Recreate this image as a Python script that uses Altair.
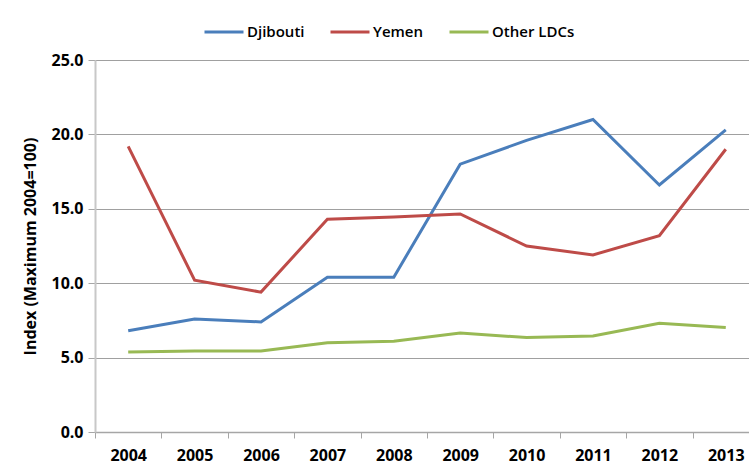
import altair as alt
import pandas as pd

years = [2004, 2005, 2006, 2007, 2008, 2009, 2010, 2011, 2012, 2013]
djibouti = [6.8, 7.6, 7.4, 10.4, 10.4, 18.0, 19.6, 21.0, 16.6, 20.3]
yemen = [19.2, 10.2, 9.4, 14.3, 14.45, 14.65, 12.5, 11.9, 13.2, 19.0]
other_ldcs = [5.38, 5.45, 5.45, 6.0, 6.1, 6.65, 6.35, 6.45, 7.3, 7.03]
series = ["Djibouti", "Yemen", "Other LDCs"]
colors = ["#4A7EBB", "#BE4B48", "#98B954"]

rows = []
for name, vals in zip(series, [djibouti, yemen, other_ldcs]):
    for y, v in zip(years, vals):
        rows.append({"Year": y, "Series": name, "Value": v})
df = pd.DataFrame(rows)

FONT = "Open Sans"

chart = alt.Chart(df).mark_line(strokeWidth=3).encode(
    x=alt.X("Year:Q",
            scale=alt.Scale(domain=[2003.5, 2013.35], nice=False, zero=False),
            axis=alt.Axis(values=years, format="d", title=None, grid=False,
                          tickOffset=-33.2, labelOffset=33.2, tickSize=6,
                          tickColor="#a6a6a6", domainColor="#a6a6a6", domainWidth=1.5,
                          labelFont=FONT, labelFontSize=16, labelFontWeight="bold",
                          labelColor="#000000", labelPadding=9, labelFlush=False)),
    y=alt.Y("Value:Q",
            scale=alt.Scale(domain=[0, 25], nice=False),
            axis=alt.Axis(values=[0, 5, 10, 15, 20, 25], format=".1f",
                          title="Index (Maximum 2004=100)",
                          titleFont=FONT, titleFontSize=16, titleFontWeight="bold",
                          titleColor="#000000", titlePadding=12,
                          labelFont=FONT, labelFontSize=16, labelFontWeight="bold",
                          labelColor="#000000", labelPadding=5,
                          tickSize=7, tickColor="#a6a6a6",
                          domainColor="#c8c8c8", domainWidth=2,
                          gridColor="#a0a0a0", gridWidth=1)),
    color=alt.Color("Series:N", sort=series,
                    scale=alt.Scale(domain=series, range=colors),
                    legend=alt.Legend(title=None, orient="none", direction="horizontal",
                                      legendX=108, legendY=-49,
                                      symbolType="stroke", symbolSize=1521,
                                      symbolStrokeWidth=3, labelOffset=2,
                                      columnPadding=19,
                                      labelFont=FONT, labelFontSize=15,
                                      labelFontWeight=600, labelColor="#000000")),
    order="Series:N",
).properties(
    width=654, height=372,
    autosize=alt.AutoSizeParams(type="none"),
    padding={"left": 95, "top": 60, "right": 0, "bottom": 32},
).configure_view(stroke=None)

chart.save("out.html", embed_options={"renderer": "svg", "actions": False})
